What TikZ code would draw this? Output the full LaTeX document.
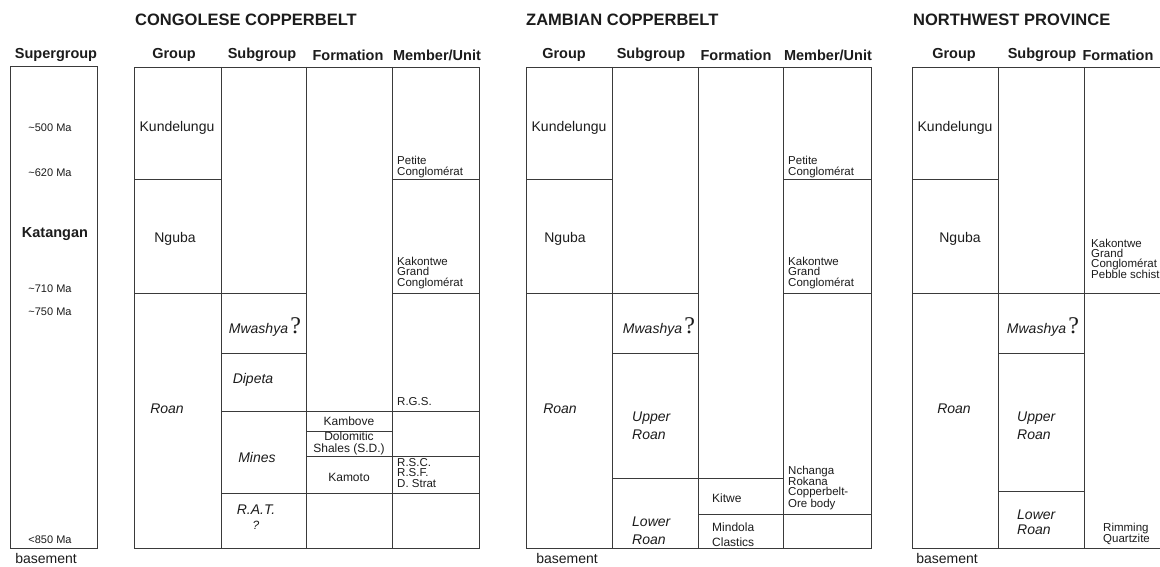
\documentclass[tikz,border=0pt]{standalone}
\usepackage{fontspec}
\setmainfont{Liberation Sans}
\newfontfamily\qmarkfont{Liberation Serif}
\usetikzlibrary{positioning}
\definecolor{Ink}{HTML}{3A3A3A}
\definecolor{Txt}{HTML}{1C1C1C}
\newcommand{\qm}{{\qmarkfont\upshape\fontsize{24}{24}\selectfont ?}}
\newcommand{\ma}[1]{\textasciitilde#1 Ma}
\tikzset{rule/.style={draw=Ink,line width=0.9pt},
  region/.style={font=\fontsize{16.5}{18}\selectfont\bfseries,anchor=west,inner sep=0pt},
  colhead/.style={font=\fontsize{14.5}{16}\selectfont\bfseries,inner sep=0pt},
  grouptxt/.style={font=\fontsize{14}{16}\selectfont,inner sep=0pt},
  subtxt/.style={font=\fontsize{14}{18}\selectfont\itshape,align=left,inner sep=0pt},
  fmtxt/.style={font=\fontsize{12}{13}\selectfont,align=center,inner sep=0pt},
  unittxt/.style={font=\fontsize{11.5}{10.5}\selectfont,align=left,inner sep=0pt,anchor=west},
  agetxt/.style={font=\fontsize{11}{12}\selectfont,inner sep=0pt}}

\begin{document}
\begin{tikzpicture}[x=1pt,y=-1pt,text=Txt]
  \clip (0,0) rectangle (1160,567);
  \fill[white] (0,0) rectangle (1160,567);
  % region titles
  \node[region] (cgT) at (135,20) {CONGOLESE COPPERBELT};
  \node[region] (zmT) at (526,20) {ZAMBIAN COPPERBELT};
  \node[region] (nwT) at (913,20) {NORTHWEST PROVINCE};
  % column heads
  \node[colhead] (sgH) at (56,55) {Supergroup};
  \node[colhead] (cgGH) at (174,55) {Group};
  \node[colhead] (cgSH) at (262,55) {Subgroup};
  \node[colhead] (cgFH) at (348,55) {Formation};
  \node[colhead] (cgMH) at (437,55) {Member/Unit};
  \node[colhead] (zmGH) at (564,55) {Group};
  \node[colhead] (zmSH) at (651,55) {Subgroup};
  \node[colhead] (zmFH) at (736,55) {Formation};
  \node[colhead] (zmMH) at (828,55) {Member/Unit};
  \node[colhead] (nwGH) at (954,55) {Group};
  \node[colhead] (nwSH) at (1042,55) {Subgroup};
  \node[colhead] (nwFH) at (1118,55) {Formation};

  % supergroup column
  \draw[rule] (10,66) rectangle (97,548);
  \node[agetxt] (a500) at (50,128) {\ma{500}};
  \node[agetxt] (a620) at (50,173) {\ma{620}};
  \node[font=\fontsize{14.5}{16}\selectfont\bfseries,inner sep=0pt] (kat) at (55,234) {Katangan};
  \node[agetxt] (a710) at (50,289) {\ma{710}};
  \node[agetxt] (a750) at (50,312) {\ma{750}};
  \node[agetxt] (a850) at (50,540) {<850 Ma};
  \node[grouptxt] (sgB) at (46,558) {basement};

  % congolese copperbelt
  \draw[rule] (134,67) rectangle (479,548);
  \draw[rule] (221,67) -- (221,548) (306,67) -- (306,548) (392,67) -- (392,548);
  \draw[rule] (134,179) -- (221,179) (392,179) -- (479,179);
  \draw[rule] (134,293) -- (306,293) (392,293) -- (479,293);
  \draw[rule] (221,353) -- (306,353);
  \draw[rule] (221,411) -- (479,411);
  \draw[rule] (306,431) -- (392,431);
  \draw[rule] (306,456) -- (479,456);
  \draw[rule] (221,493) -- (479,493);
  \node[grouptxt] (cgKu) at (177,128) {Kundelungu};
  \node[grouptxt] (cgNg) at (175,239) {Nguba};
  \node[subtxt] (cgRo) at (167,409) {Roan};
  \node[subtxt,anchor=base] (cgMw) at (265,333) {Mwashya\,\qm};
  \node[subtxt] (cgDi) at (253,380) {Dipeta};
  \node[subtxt] (cgMi) at (257,457) {Mines};
  \node[subtxt] (cgRat) at (256,510) {R.A.T.};
  \node[subtxt,below=6pt of cgRat,font=\fontsize{12}{13}\selectfont\itshape] (cgRq) {?};
  \node[fmtxt] (cgKa) at (349,421) {Kambove};
  \node[fmtxt,font=\fontsize{12}{12}\selectfont] (cgDo) at (349,443) {Dolomitic\\Shales (S.D.)};
  \node[fmtxt] (cgKm) at (349,477) {Kamoto};
  \node[unittxt] (cgPe) at (397,167) {Petite\\Conglomérat};
  \node[unittxt] (cgKk) at (397,273) {Kakontwe\\Grand\\Conglomérat};
  \node[unittxt] (cgRg) at (397,402) {R.G.S.};
  \node[unittxt] (cgRs) at (397,473) {R.S.C.\\R.S.F.\\D. Strat};

  % zambian copperbelt
  \draw[rule] (526,67) rectangle (871,548);
  \draw[rule] (612,67) -- (612,548) (698,67) -- (698,548) (783,67) -- (783,548);
  \draw[rule] (526,179) -- (612,179) (783,179) -- (871,179);
  \draw[rule] (526,293) -- (698,293) (783,293) -- (871,293);
  \draw[rule] (612,353) -- (698,353);
  \draw[rule] (612,478) -- (783,478);
  \draw[rule] (698,514) -- (871,514);
  \node[grouptxt] (zmKu) at (569,128) {Kundelungu};
  \node[grouptxt] (zmNg) at (565,239) {Nguba};
  \node[subtxt] (zmRo) at (560,409) {Roan};
  \node[subtxt,anchor=base] (zmMw) at (659,333) {Mwashya\,\qm};
  \node[subtxt,anchor=west] (zmUp) at (632,426) {Upper\\Roan};
  \node[subtxt,anchor=west] (zmLo) at (632,531) {Lower\\Roan};
  \node[fmtxt,anchor=west] (zmKi) at (712,498) {Kitwe};
  \node[fmtxt,anchor=west,align=left,font=\fontsize{12}{15}\selectfont] (zmMi) at (712,535) {Mindola\\Clastics};
  \node[unittxt] (zmPe) at (788,167) {Petite\\Conglomérat};
  \node[unittxt] (zmKk) at (788,273) {Kakontwe\\Grand\\Conglomérat};
  \node[unittxt,font=\fontsize{11.5}{10}\selectfont] (zmNc) at (788,488) {Nchanga\\Rokana\\Copperbelt-\\Ore body};
  \node[grouptxt] (zmB) at (567,558) {basement};

  % northwest province
  \draw[rule] (1170,67) -- (912,67) -- (912,548) -- (1170,548);
  \draw[rule] (998,67) -- (998,548) (1084,67) -- (1084,548);
  \draw[rule] (912,179) -- (998,179);
  \draw[rule] (912,293) -- (1170,293);
  \draw[rule] (998,353) -- (1084,353);
  \draw[rule] (998,491) -- (1084,491);
  \node[grouptxt] (nwKu) at (955,128) {Kundelungu};
  \node[grouptxt] (nwNg) at (960,239) {Nguba};
  \node[subtxt] (nwRo) at (954,409) {Roan};
  \node[subtxt,anchor=base] (nwMw) at (1043,333) {Mwashya\,\qm};
  \node[subtxt,anchor=west] (nwUp) at (1017,426) {Upper\\Roan};
  \node[subtxt,anchor=west,font=\fontsize{14}{15}\selectfont\itshape] (nwLo) at (1017,522) {Lower\\Roan};
  \node[unittxt,font=\fontsize{11.5}{10}\selectfont] (nwKk) at (1091,259) {Kakontwe\\Grand\\Conglomérat\\Pebble schist};
  \node[unittxt] (nwRi) at (1103,534) {Rimming\\Quartzite};
  \node[grouptxt] (nwB) at (947,558) {basement};
\end{tikzpicture}
\end{document}
